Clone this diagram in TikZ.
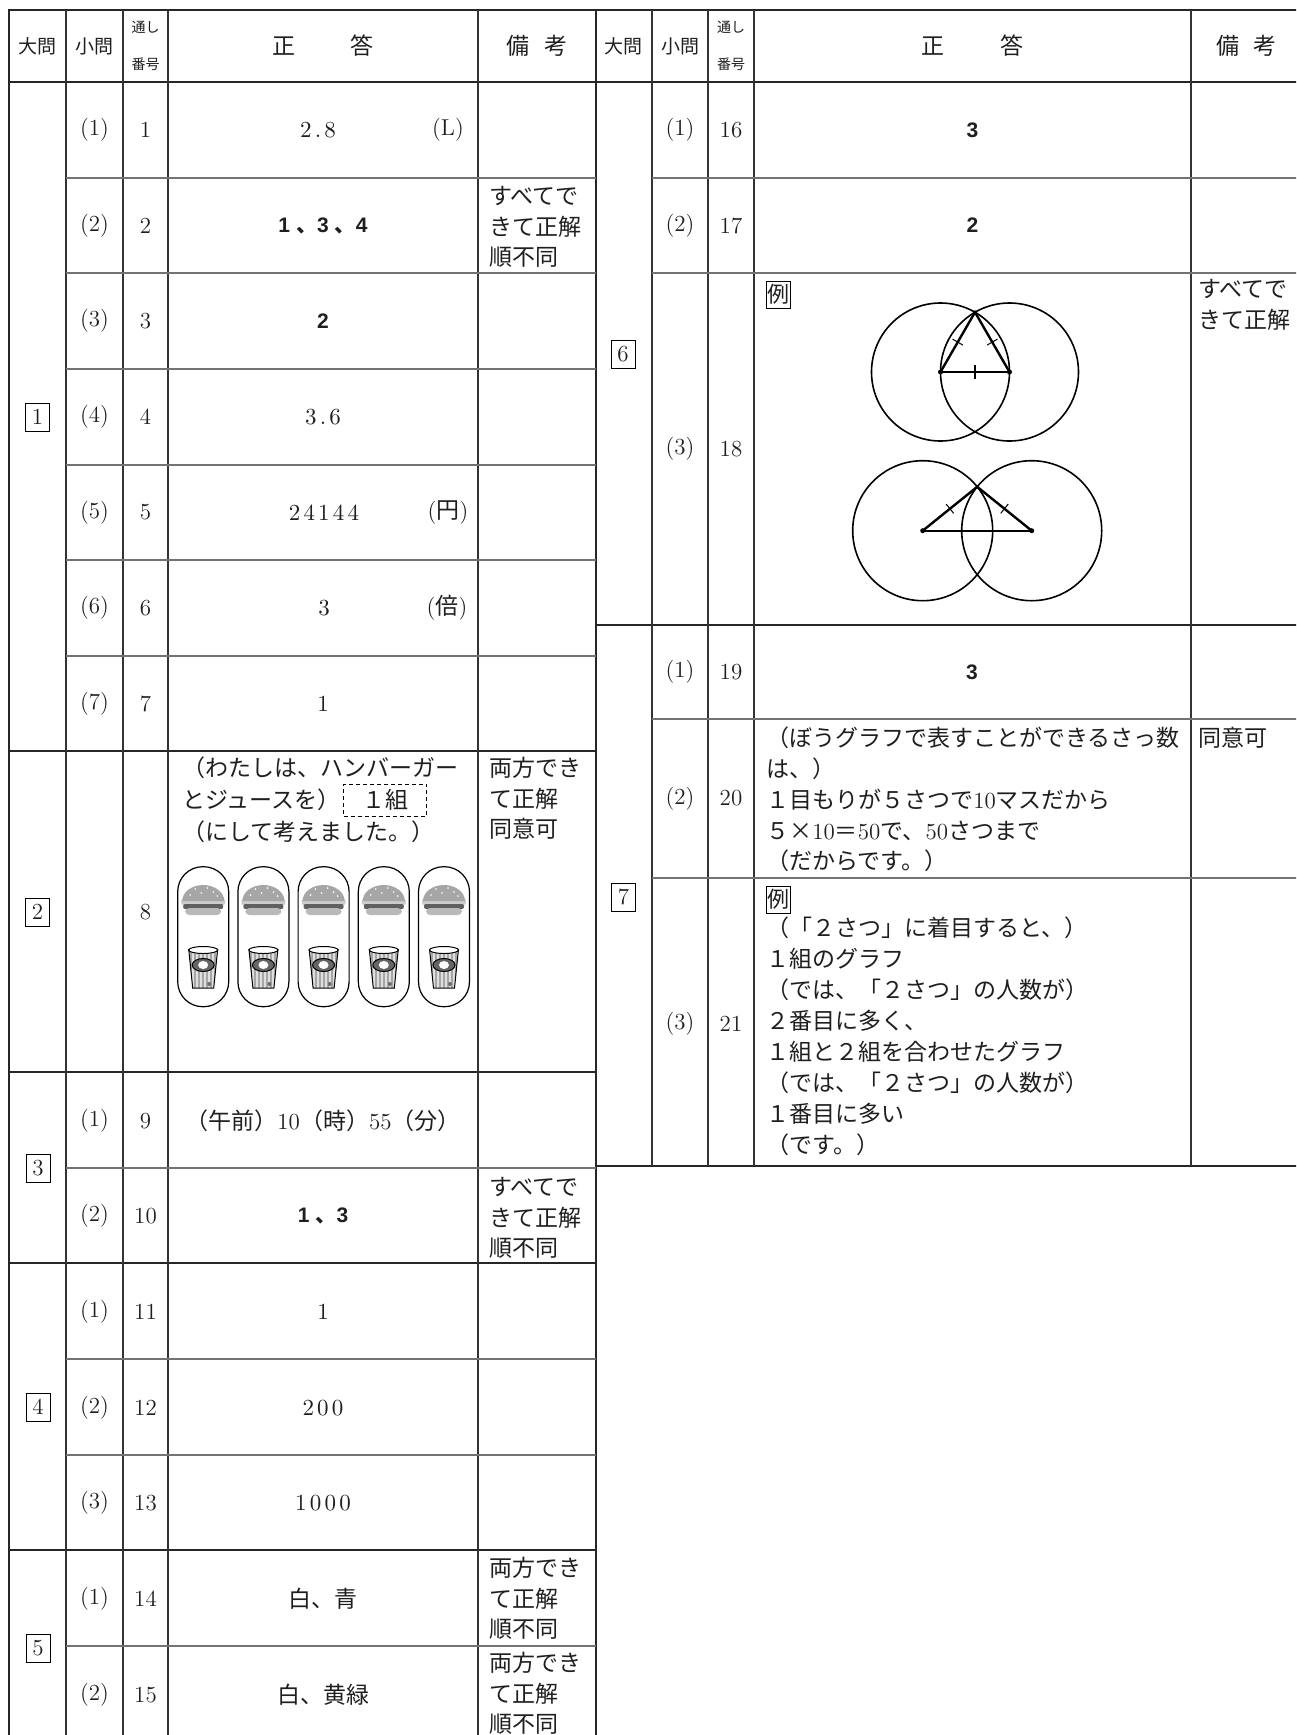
\documentclass[tikz,border=0pt]{standalone}
\usepackage{fontspec}
\newfontfamily\jp{Noto Sans CJK JP}
\newfontfamily\ansfont{Liberation Sans}
\newfontfamily\numfont{lmroman10-regular.otf}[LetterSpace=14]
\newcommand\rmn[1]{{\rmfamily #1}}
\usetikzlibrary{positioning,calc}

\begin{document}
\begin{tikzpicture}[x=0.5pt, y=-0.5pt,
    every node/.append style={text=black!88},
    heavyline/.style={line width=1.1pt, black!85},
    midline/.style={line width=0.8pt, black!80},
    thinline/.style={line width=0.6pt, black!55},
    hd/.style={font=\jp\fontsize{9.5}{11}\selectfont, inner sep=0pt},
    hdsmall/.style={font=\jp\fontsize{7}{8}\selectfont, inner sep=0pt},
    hdbig/.style={font=\jp\fontsize{11.5}{13}\selectfont, inner sep=0pt},
    lbl/.style={font=\fontsize{11.5}{13}\selectfont, inner sep=0pt},
    nums/.style={font=\numfont\fontsize{11.5}{13}\selectfont, inner sep=0pt},
    ans/.style={font=\ansfont\bfseries\fontsize{10.5}{12}\selectfont, inner sep=0pt},
    jtext/.style={font=\jp\fontsize{11.5}{13}\selectfont, inner sep=0pt},
    jline/.style={font=\jp\fontsize{11.5}{13}\selectfont, anchor=west, inner sep=0pt, text height=9.9pt, text depth=1.6pt},
    note/.style={font=\jp\fontsize{11.5}{15.2}\selectfont, anchor=north west, align=left, inner sep=0pt},
    secbox/.style={draw, line width=0.5pt, inner sep=0pt, minimum width=12pt, minimum height=14pt, font=\fontsize{11.5}{13}\selectfont},
    reibox/.style={draw, line width=0.5pt, inner sep=0.5pt, minimum width=12pt, minimum height=13.5pt, font=\jp\fontsize{11}{12}\selectfont},
    dashbox/.style={draw, dash pattern=on 2pt off 1.5pt, line width=0.5pt, minimum width=41.5pt, minimum height=16pt, inner sep=0pt, font=\jp\fontsize{11.5}{13}\selectfont},
    capsule/.style={line width=0.6pt, rounded corners=12.5pt},
    circ/.style={line width=0.8pt},
    triline/.style={line width=1.2pt},
    tick/.style={line width=0.5pt}]
    \useasboundingbox (0,0) rectangle (1296,1735);
    \clip (0,0) rectangle (1296,1735);
    \fill[white] (0,0) rectangle (1296,1735);

    % Cadre et traits forts
    \draw[heavyline] (9,1745) -- (9,10) -- (1300,10);
    \draw[heavyline] (9,82) -- (1300,82);
    \draw[heavyline] (596,10) -- (596,1745);
    \foreach \y in {751,1072,1263,1550} \draw[heavyline] (9,\y) -- (596,\y);
    \foreach \y in {625,1166} \draw[heavyline] (596,\y) -- (1300,\y);

    % Colonnes
    \foreach \x in {66,123,168,478} \draw[midline] (\x,10) -- (\x,1745);
    \foreach \x in {652,708,754,1191} \draw[midline] (\x,10) -- (\x,1166);

    % Lignes fines
    \foreach \y in {178,273,369,465,560,656,1168,1359,1455,1646} \draw[thinline] (66,\y) -- (596,\y);
    \foreach \y in {178,273,719,878} \draw[thinline] (652,\y) -- (1300,\y);

    % En-tetes
    \node[hd] (h1) at (37.5,46) {大問};
    \node[hd] (h2) at (94.5,46) {小問};
    \node[hdsmall] (h3) at (145.5,27) {通し};
    \node[hdsmall] (h3b) at (145.5,64) {番号};
    \node[hdbig] (h4) at (323,46) {正\hspace{28pt}答};
    \node[hdbig] (h5) at (537,46) {備\hspace{8pt}考};
    \node[hd] (k1) at (623.5,46) {大問};
    \node[hd] (k2) at (680,46) {小問};
    \node[hdsmall] (k3) at (731,27) {通し};
    \node[hdsmall] (k3b) at (731,64) {番号};
    \node[hdbig] (k4) at (972.5,46) {正\hspace{28pt}答};
    \node[hdbig] (k5) at (1246.5,46) {備\hspace{7pt}考};

    % Numeros des grandes questions
    \node[secbox] (b1) at (37.5,417) {1};
    \node[secbox] (b2) at (37.5,912) {2};
    \node[secbox] (b3) at (38,1168) {3};
    \node[secbox] (b4) at (38,1407) {4};
    \node[secbox] (b5) at (38,1648) {5};
    \node[secbox] (b6) at (623,354) {6};
    \node[secbox] (b7) at (623.5,897) {7};

    % Petites questions et numeros
    \foreach \y/\s/\n in {130/1/1,225.5/2/2,321/3/3,417/4/4,512.5/5/5,608/6/6,703.5/7/7,
        1121/1/9,1216/2/10,1312/1/11,1408/2/12,1503/3/13,1599/1/14,1695/2/15}{
        \node[lbl] (q\n) at (94.5,\y) {(\s)};
        \node[lbl] (n\n) at (145.5,\y) {\n};
    }
    \node[lbl] (n8) at (145.5,912) {8};
    \foreach \y/\s/\n in {130/1/16,225.5/2/17,449/3/18,672/1/19,798.5/2/20,1024/3/21}{
        \node[lbl] (q\n) at (680,\y) {(\s)};
        \node[lbl] (n\n) at (731,\y) {\n};
    }

    % Reponses (gauche)
    \node[nums] (a1) at (318,130) {2.8};
    \node[lbl] (u1) at (448,130) {(L)};
    \node[ans] (a2) at (323,225.5) {1\hspace{3pt}{\jp 、}3\hspace{3pt}{\jp 、}4};
    \node[ans] (a3) at (323,321) {2};
    \node[nums] (a4) at (323,417) {3.6};
    \node[nums] (a5) at (324,512.5) {24144};
    \node[lbl] (u5) at (448,512.5) {({\jp 円})};
    \node[nums] (a6) at (324,608) {3};
    \node[lbl] (u6) at (447,608) {({\jp 倍})};
    \node[nums] (a7) at (323,703.5) {1};
    \node[lbl] (a9) at (323,1121) {{\jp （午前）}10{\jp （時）}55{\jp （分）}};
    \node[ans] (a10) at (323,1216) {1\hspace{3pt}{\jp 、}3};
    \node[nums] (a11) at (323,1312) {1};
    \node[nums] (a12) at (323,1408) {200};
    \node[nums] (a13) at (323,1503) {1000};
    \node[jtext] (a14) at (323,1599) {白、青};
    \node[jtext] (a15) at (323,1695) {白、黄緑};

    % Question 8
    \node[jline] (t8a) at (182,768) {（わたしは、ハンバーガー};
    \node[jline] (t8b) at (182,800) {とジュースを）};
    \node[dashbox, right=1pt of t8b] (g8) {１組};
    \node[jline] (t8c) at (182,832) {（にして考えました。）};

    % Hamburgers et jus
    \foreach \k in {0,...,4}{
        \begin{scope}[shift={({203.2+60.2*\k},0)}]
            \draw[capsule] (-25.5,866.7) rectangle (25.5,1006.7);
            \fill[gray!40, rounded corners=1pt] (-22,899) rectangle (22,905);
            \fill[gray!75!black, rounded corners=1pt] (-20,904) rectangle (20,909);
            \fill[gray!55, rounded corners=2pt] (-18,908) rectangle (18,915);
            \fill[gray!70] (-21,901) arc[start angle=180, end angle=360, x radius=21, y radius=16] -- cycle;
            \foreach \p/\q in {-8/889,4/888,10/892,-2/893,14/896,-13/895}
                \fill[white] (\p,\q) circle[radius=0.9];
            \begin{scope}
                \clip (-14.5,949) -- (14.5,949) -- (10.5,988) -- (-10.5,988) -- cycle;
                \fill[gray!25] (-15,949) rectangle (15,988);
                \foreach \s in {-12,-8,...,12} \fill[gray!70] (\s-1,949) rectangle (\s+1,988);
            \end{scope}
            \draw[line width=0.5pt] (-14.5,949) -- (-10.5,988) -- (10.5,988) -- (14.5,949);
            \draw[line width=0.5pt, fill=white] (0,950) ellipse[x radius=14.5, y radius=3.5];
            \draw[line width=0.5pt, fill=gray!80!black] (0,965) ellipse[x radius=11, y radius=6.5];
            \fill[white] (0,965) ellipse[x radius=5, y radius=4];
            \fill[gray!85!black] (6,984) circle[radius=2];
        \end{scope}
    }

    % Remarques
    \node[note] (r2) at (489,186) {すべてで\\きて正解\\順不同};
    \node[note] (r8) at (489,757) {両方でき\\て正解\\同意可};
    \node[note] (r10) at (489,1177) {すべてで\\きて正解\\順不同};
    \node[note] (r14) at (489,1557) {両方でき\\て正解\\順不同};
    \node[note] (r15) at (489,1652) {両方でき\\て正解\\順不同};
    \node[note] (r18) at (1198,279) {すべてで\\きて正解};
    \node[note] (r20) at (1198,727) {同意可};

    % Reponses (droite)
    \node[ans] (a16) at (972.5,130) {3};
    \node[ans] (a17) at (972.5,225.5) {2};
    \node[ans] (a19) at (972,672) {3};
    \node[reibox] (ex18) at (778,294.5) {例};
    \node[reibox] (ex21) at (778,899.5) {例};

    % Question 20
    \foreach \t [count=\i] in {{（ぼうグラフで表すことができるさっ数},{は、）},
        {１目もりが５さつで\rmn{10}マスだから},{５×\rmn{10}＝\rmn{50}で、\rmn{50}さつまで},{（だからです。）}}
        \node[jline] (l20-\i) at (766,{738.3+30.8*(\i-1)}) {\t};

    % Question 21
    \foreach \t [count=\i] in {{（「２さつ」に着目すると、）},{１組のグラフ},{（では、「２さつ」の人数が）},
        {２番目に多く、},{１組と２組を合わせたグラフ},{（では、「２さつ」の人数が）},{１番目に多い},{（です。）}}
        \node[jline] (l21-\i) at (766,{928+31*(\i-1)}) {\t};

    % Construction des triangles
    \coordinate (A) at (940.5,372);
    \coordinate (B) at (1009.5,372);
    \coordinate (C) at (975,312.2);
    \draw[circ] (A) circle[radius=69];
    \draw[circ] (B) circle[radius=69];
    \draw[triline] (A) -- (C) -- (B);
    \draw[triline] (A) -- (B);
    \fill (A) circle[radius=2.5];
    \fill (B) circle[radius=2.5];
    \draw[tick] ($(A)!0.5!(C)!3pt!90:(C)$) -- ($(A)!0.5!(C)!3pt!-90:(C)$);
    \draw[tick] ($(B)!0.5!(C)!3pt!90:(C)$) -- ($(B)!0.5!(C)!3pt!-90:(C)$);
    \draw[line width=0.8pt] ($(A)!0.5!(B)$) ++(0,-7) -- ++(0,14);

    \coordinate (D) at (922.7,530.7);
    \coordinate (E) at (1031.7,530.7);
    \coordinate (F) at (977.2,486.8);
    \draw[circ] (D) circle[radius=70];
    \draw[circ] (E) circle[radius=70];
    \draw[triline] (D) -- (F) -- (E);
    \draw[triline] (D) -- (E);
    \fill (D) circle[radius=2.5];
    \fill (E) circle[radius=2.5];
    \draw[tick] ($(D)!0.5!(F)!3pt!90:(F)$) -- ($(D)!0.5!(F)!3pt!-90:(F)$);
    \draw[tick] ($(E)!0.5!(F)!3pt!90:(F)$) -- ($(E)!0.5!(F)!3pt!-90:(F)$);
\end{tikzpicture}
\end{document}
